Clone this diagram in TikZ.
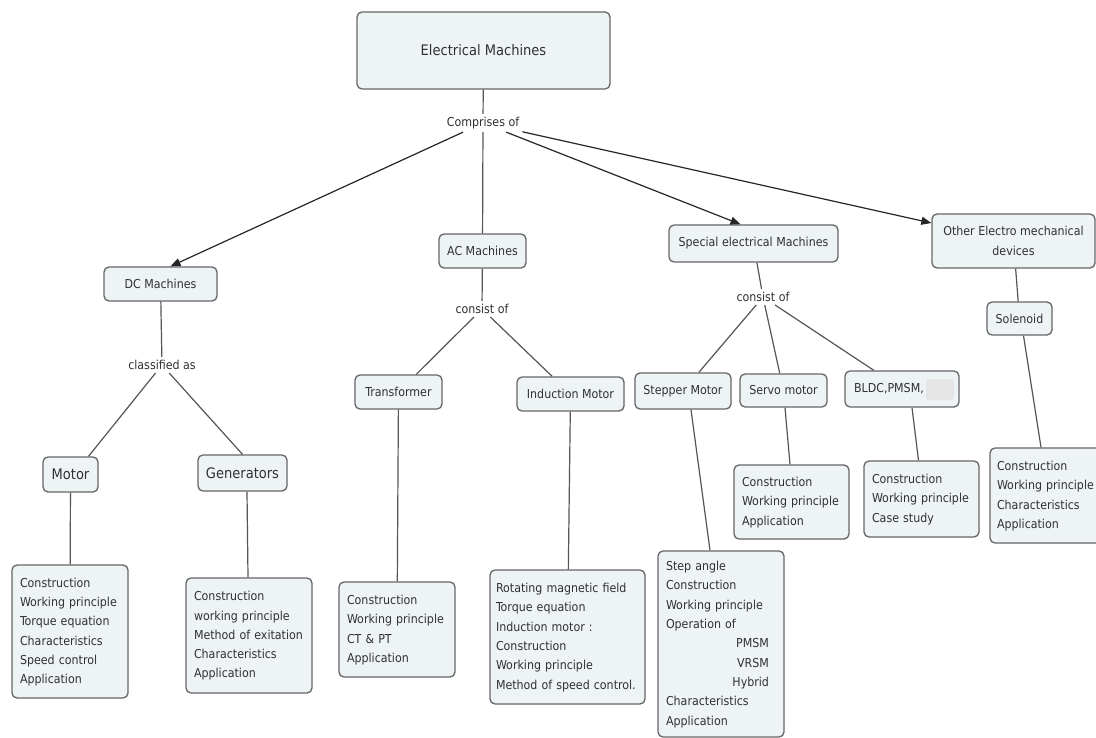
\documentclass[tikz,border=0pt]{standalone}
\usepackage{fontspec}
\setmainfont{DejaVu Sans Condensed}
\usetikzlibrary{arrows.meta}

\definecolor{boxfill}{HTML}{EEF3F6}
\definecolor{boxline}{HTML}{666666}
\definecolor{ink}{HTML}{303030}
\definecolor{wire}{HTML}{555555}

% one unbreakable left-aligned line per topic
\newcommand{\topiclist}[1]{\begin{tabular}{@{}l@{}}#1\end{tabular}}

\tikzset{
  concept/.style={draw=boxline, fill=boxfill, rounded corners=5pt, line width=1.3pt,
    text=ink, font=\fontsize{12.3}{15}\selectfont, inner sep=0pt, align=center},
  bigconcept/.style={concept, font=\fontsize{14.5}{17}\selectfont},
  phrase/.style={text=ink, font=\fontsize{12.3}{15}\selectfont, inner sep=3pt},
  detail/.style={concept, align=left, font=\fontsize{12.3}{19.3}\selectfont,
    inner xsep=8pt, inner ysep=0pt},
  link/.style={draw=wire, line width=1.2pt},
  arrowlink/.style={draw=black!85, line width=1.2pt, -{Triangle[length=10pt,width=8pt]}}
}

\begin{document}
\begin{tikzpicture}[x=1pt,y=-1pt]
\useasboundingbox (0,0) rectangle (1096,738);
\fill[white] (0,0) rectangle (1096,738);

% top concept and first-level link
\node[bigconcept, minimum width=253pt, minimum height=77pt] (em) at (483.5,50.5) {Electrical Machines};
\node[phrase] (comp) at (483,123) {Comprises of};

% main branches
\node[concept, minimum width=113pt, minimum height=34pt] (dc) at (160.5,284) {DC Machines};
\node[concept, minimum width=87pt, minimum height=34pt] (ac) at (482.5,251) {AC Machines};
\node[concept, minimum width=169pt, minimum height=37pt] (sem) at (753.5,243.5) {Special electrical Machines};
\node[concept, minimum width=163pt, minimum height=54pt, font=\fontsize{12.3}{20}\selectfont] (oth) at (1013.5,241) {Other Electro mechanical\\devices};

% linking phrases
\node[phrase] (cls) at (162,365) {classified as};
\node[phrase] (acc) at (482,309) {consist of};
\node[phrase] (semc) at (763,297) {consist of};

% second-level concepts
\node[bigconcept, minimum width=55pt, minimum height=35pt] (motor) at (70.5,474.5) {Motor};
\node[bigconcept, minimum width=89pt, minimum height=36pt] (gen) at (242.5,473) {Generators};
\node[concept, minimum width=87pt, minimum height=34pt] (trans) at (398.5,392) {Transformer};
\node[concept, minimum width=107pt, minimum height=34pt] (ind) at (570.5,394) {Induction Motor};
\node[concept, minimum width=96pt, minimum height=36pt] (step) at (683,391) {Stepper Motor};
\node[concept, minimum width=87pt, minimum height=33pt] (servo) at (783.5,390.5) {Servo motor};
\node[concept, text width=96pt, inner xsep=9pt, align=left, minimum height=36pt] (bldc) at (902,389) {BLDC,PMSM,};
\fill[gray!20, rounded corners=3pt] (926,379) rectangle (954,400);
\node[concept, minimum width=65pt, minimum height=33pt] (sol) at (1019.5,318.5) {Solenoid};

% topic lists
\node[detail, text width=100pt, minimum height=133pt] (motord) at (70,631.5)
  {\topiclist{Construction\\Working principle\\Torque equation\\Characteristics\\Speed control\\Application}};
\node[detail, text width=110pt, minimum height=115pt] (gend) at (249,635.5)
  {\topiclist{Construction\\working principle\\Method of exitation\\Characteristics\\Application}};
\node[detail, text width=100pt, minimum height=95pt] (transd) at (397,629.5)
  {\topiclist{Construction\\Working principle\\CT \& PT\\Application}};
\node[detail, text width=143pt, inner xsep=6pt, minimum height=134pt] (indd) at (567.5,637)
  {\topiclist{Rotating magnetic field\\Torque equation\\Induction motor :\\Construction\\Working principle\\Method of speed control.}};
\node[detail, text width=110pt, minimum height=186pt] (stepd) at (721,644)
  {\topiclist{Step angle\\Construction\\Working principle\\Operation of\\
   \makebox[103pt][r]{PMSM}\\\makebox[103pt][r]{VRSM}\\\makebox[103pt][r]{Hybrid}\\
   Characteristics\\Application}};
\node[detail, text width=99pt, minimum height=74pt] (servod) at (791.5,502)
  {\topiclist{Construction\\Working principle\\Application}};
\node[detail, text width=99pt, minimum height=76pt] (bldcd) at (921.5,499)
  {\topiclist{Construction\\Working principle\\Case study}};
\node[detail, text width=100pt, inner xsep=7pt, minimum height=95pt] (sold) at (1047,495.5)
  {\topiclist{Construction\\Working principle\\Characteristics\\Application}};

% connectors
\draw[link] (em) -- (comp);
\draw[arrowlink] (comp) -- ([xshift=10pt]dc.north);
\draw[link] (comp) -- (ac);
\draw[arrowlink] (comp) -- ([xshift=-13pt]sem.north);
\draw[arrowlink] (comp) -- ([yshift=18pt]oth.west);

\draw[link] (dc) -- (cls);
\draw[link] (cls) -- ([xshift=18pt]motor.north);
\draw[link] (cls) -- (gen.north);
\draw[link] (motor) -- (motord);
\draw[link] ([xshift=4.5pt]gen.south) -- ([xshift=-1pt]gend.north);

\draw[link] (ac) -- (acc);
\draw[link] (acc) -- (trans);
\draw[link] (acc) -- (ind);
\draw[link] (trans) -- (transd);
\draw[link] (ind) -- (indd);

\draw[link] (sem) -- (semc);
\draw[link] (semc) -- (step);
\draw[link] (semc) -- (servo);
\draw[link] (semc) -- (bldc);
\draw[link] ([xshift=8pt]step.south) -- ([xshift=-11pt]stepd.north);
\draw[link] ([xshift=1.5pt]servo.south) -- ([xshift=-1.5pt]servod.north);
\draw[link] ([xshift=10pt]bldc.south) -- ([xshift=-3pt]bldcd.north);

\draw[link] (oth) -- (sol);
\draw[link] ([xshift=4pt]sol.south) -- ([xshift=-6pt]sold.north);
\end{tikzpicture}
\end{document}
